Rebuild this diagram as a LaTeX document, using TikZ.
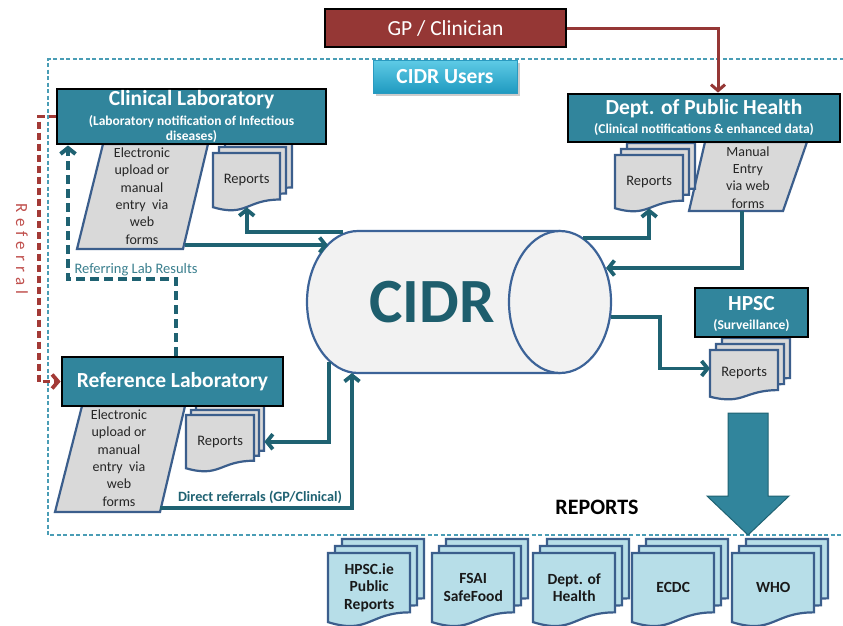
\documentclass[tikz,border=0pt]{standalone}
\usepackage{fontspec}
\setmainfont{Carlito}
\usetikzlibrary{arrows.meta,calc,shadows}

\definecolor{labteal}{HTML}{31859C}
\definecolor{gpred}{HTML}{953735}
\definecolor{btntop}{HTML}{5FCBE6}
\definecolor{btnbot}{HTML}{1F9AC0}
\definecolor{btnedge}{HTML}{2A9AC0}
\definecolor{docline}{HTML}{3B5E8C}
\definecolor{formgray}{HTML}{D9D9D9}
\definecolor{lightblue}{HTML}{B7DEE8}
\definecolor{cylfill}{HTML}{F2F2F2}
\definecolor{cylline}{HTML}{3C6398}
\definecolor{flowteal}{HTML}{1F6272}
\definecolor{refred}{HTML}{A33A36}
\definecolor{reftext}{HTML}{C0504D}
\definecolor{userteal}{HTML}{4A9DB5}
\definecolor{cidrtext}{HTML}{1E5E6D}
\definecolor{rltext}{HTML}{3A7F8E}

\tikzset{
  labbox/.style={draw=black, line width=2.8pt, fill=labteal, text=white, align=center, inner sep=0pt},
  labtitle/.style={text=white, inner sep=0pt, align=center, font=\fontsize{21.5}{24}\selectfont\bfseries},
  labsub/.style={text=white, inner sep=0pt, align=center, font=\fontsize{13.5}{15}\selectfont\bfseries},
  gpbox/.style={draw=black, line width=2.8pt, fill=gpred, text=white, inner sep=0pt,
    font=\fontsize{21.5}{24}\selectfont},
  userbtn/.style={top color=btntop, bottom color=btnbot, draw=btnedge, line width=0.6pt, text=white,
    font=\fontsize{21.5}{24}\selectfont\bfseries,
    drop shadow={opacity=0.4, shadow xshift=2.5pt, shadow yshift=-3pt}},
  formshape/.style={draw=docline, line width=2.2pt, fill=formgray},
  docpage/.style={draw=docline, line width=2.2pt},
  doctext/.style={inner sep=0pt, align=center, anchor=north west},
  formtext/.style={align=center, font=\fontsize{14}{17.3}\selectfont, text=black!85},
  reptext/.style={font=\fontsize{14.5}{17}\selectfont, text=black!85},
  outtext/.style={font=\fontsize{15.5}{17.5}\selectfont\bfseries, text=black!90},
  flow/.style={draw=flowteal, line width=3.8pt, -{Straight Barb[length=6pt,width=15pt]}},
  gpflow/.style={draw=gpred, line width=3pt, -{Straight Barb[length=6pt,width=14pt]}},
  referral/.style={draw=refred, line width=3.8pt, dash pattern=on 7pt off 4pt,
    -{Straight Barb[length=6pt,width=14pt]}},
  labresults/.style={draw=flowteal, line width=4pt, dash pattern=on 9pt off 5pt,
    -{Straight Barb[length=6pt,width=15pt]}},
  userline/.style={draw=userteal, line width=1.5pt, dash pattern=on 4pt off 2.5pt},
  cylline/.style={draw=cylline, line width=2.2pt},
  bigarrow/.style={fill=labteal, draw=flowteal, line width=1pt},
}

% one page of a document symbol: left, top, width, height, fill
\newcommand\docsheet[5]{%
  \path[docpage, fill=#5] ({#1},{#2}) -- ({#1+#3},{#2}) -- ({#1+#3},{#2+0.802*#4})
    .. controls ({#1+0.5*#3},{#2+0.802*#4}) and ({#1+0.5*#3},{#2+1.107*#4}) .. ({#1},{#2+0.934*#4}) -- cycle;}
% a stack of three pages with a named text node on the front page:
% name, left, top, width, height, offset, fill, text style, text
\newcommand\docstack[9]{%
  \docsheet{#2+2*#6}{#3-2*#6}{#4}{#5}{#7}
  \docsheet{#2+#6}{#3-#6}{#4}{#5}{#7}
  \docsheet{#2}{#3}{#4}{#5}{#7}
  \node[doctext, #8, minimum width={#4*1pt}, minimum height={0.93*#5*1pt}] (#1) at ({#2},{#3}) {#9};}

\begin{document}
\begin{tikzpicture}[x=1pt,y=-1pt]
\useasboundingbox[fill=white] (0,0) rectangle (843,625);

% dashed frame around the CIDR users
\draw[userline] (850,59) -- (48,59) -- (48,535) -- (850,535);

% CIDR database cylinder
\fill[cylfill] (560,231) -- (358,231) arc[start angle=270, end angle=90, x radius=51, y radius=71] -- (560,373) -- cycle;
\draw[cylline] (560,231) -- (358,231) arc[start angle=270, end angle=90, x radius=51, y radius=71] -- (560,373);
\draw[cylline, fill=cylfill] (560,302) ellipse[x radius=51, y radius=71];
\node[font=\fontsize{63}{70}\selectfont\bfseries, text=cidrtext] (cidr) at (432,302) {CIDR};
\coordinate (cyA) at (328,245);
\coordinate (cyB) at (343,232);
\coordinate (cyC) at (583,238);
\coordinate (cyD) at (606,268);
\coordinate (cyE) at (611,317);
\coordinate (cyF) at (329,362);
\coordinate (cyG) at (352,373);

% data entry forms
\path[formshape] (103,144) -- (208,144) -- (183,249) -- (77,249) -- cycle;
\node[formtext] (clinform) at (142,196) {Electronic\\upload or\\manual\\entry\ \ via\\web\\forms};
\coordinate (clinout) at (185,245);

\path[formshape] (705,142) -- (807,142) -- (783,211) -- (689,211) -- cycle;
\node[formtext] (dphform) at (748,177.5) {Manual\\Entry\\via web\\forms};
\coordinate (dphout) at (742,211);

\path[formshape] (82,406) -- (185,406) -- (160,512) -- (55,512) -- cycle;
\node[formtext] (refform) at (119,458) {Electronic\\upload or\\manual\\entry\ \ via\\web\\forms};
\coordinate (refout) at (160,508);

% report stacks
\docstack{clinrep}{213}{153}{67}{58}{6}{formgray}{reptext}{Reports}
\docstack{dphrep}{615}{155}{68}{57}{6}{formgray}{reptext}{Reports}
\docstack{hpscrep}{710}{350}{68}{50}{6}{formgray}{reptext}{Reports}
\docstack{refrep}{186}{415}{68}{57}{5}{formgray}{reptext}{Reports}

% organisations
\node[gpbox, minimum width=241pt, minimum height=38pt] (gp) at (445.5,28) {GP / Clinician};
\node[userbtn, minimum width=144pt, minimum height=33pt] (users) at (445,76.5) {CIDR Users};

\node[labbox, minimum width=269pt, minimum height=55pt] (clinlab) at (191.5,116.5) {};
\node[labtitle] (clinlabtitle) at (191.5,100) {Clinical Laboratory};
\node[labsub] (clinlabsub) at (191.5,129.5) {(Laboratory notification of Infectious\\diseases)};

\node[labbox, minimum width=272pt, minimum height=48pt] (dph) at (704,118) {};
\node[labtitle] (dphtitle) at (704,109) {Dept. of Public Health};
\node[labsub] (dphsub) at (704,130) {(Clinical notifications \& enhanced data)};

\node[labbox, minimum width=113pt, minimum height=49pt] (hpsc) at (751.5,312.5) {};
\node[labtitle] (hpsctitle) at (751.5,304) {HPSC};
\node[labsub] (hpscsub) at (751.5,326) {(Surveillance)};

\node[labbox, minimum width=221pt, minimum height=49pt, font=\fontsize{21.5}{24}\selectfont\bfseries]
  (reflab) at (172.5,381.5) {Reference Laboratory};

% data flows
\draw[gpflow] (gp.east) -| ([xshift=14pt]dph.north);
\draw[flow] (clinout) -- (cyA);
\draw[flow] (cyB) -| (clinrep.south);
\draw[flow] (cyC) -| (dphrep.south);
\draw[flow] (dphout) |- (cyD);
\draw[flow] (cyE) -| ([xshift=-50pt,yshift=5pt]hpscrep.west) -- ([yshift=5pt]hpscrep.west);
\draw[flow] (cyF) |- ([xshift=10pt]refrep.east);
\draw[flow] (refout) -| (cyG);

% referrals between laboratories
\draw[referral] (clinlab.west) -- ([xshift=-17pt]clinlab.west) |- (reflab.west);
\coordinate (rlbend) at (68,279);
\draw[labresults] ([xshift=3.5pt]reflab.north) |- (rlbend) -- (rlbend |- clinlab.south);

\node[rotate=-90, text=reftext, font=\fontsize{17}{19}\selectfont] (referraltext) at (22,249)
  {R\kern5pt e\kern5pt f\kern5pt e\kern5pt r\kern5pt r\kern5pt a\kern5pt l};
\node[anchor=west, text=rltext, font=\fontsize{14.5}{16}\selectfont] (rltextnode) at (71,270) {Referring Lab Results};
\node[text=flowteal, font=\fontsize{14.2}{16}\selectfont\bfseries] (direct) at (260,497) {Direct referrals (GP/Clinical)};

% output reports
\path[bigarrow] (728,413) -- (768,413) -- (768,496) -- (789,496) -- (748,535) -- (707,496) -- (728,496) -- cycle;
\node[font=\fontsize{22}{26}\selectfont\bfseries] (reportshead) at (597,507) {REPORTS};

\docstack{outhpsc}{328}{553}{82}{74}{7}{lightblue}{outtext}{HPSC.ie\\Public\\Reports}
\docstack{outfsai}{432}{553}{82}{74}{7}{lightblue}{outtext}{FSAI\\SafeFood}
\docstack{outdoh}{533}{553}{82}{74}{7}{lightblue}{outtext}{Dept. of\\Health}
\docstack{outecdc}{632}{553}{82}{74}{7}{lightblue}{outtext}{ECDC}
\docstack{outwho}{732}{553}{82}{74}{7}{lightblue}{outtext}{WHO}
\end{tikzpicture}
\end{document}
